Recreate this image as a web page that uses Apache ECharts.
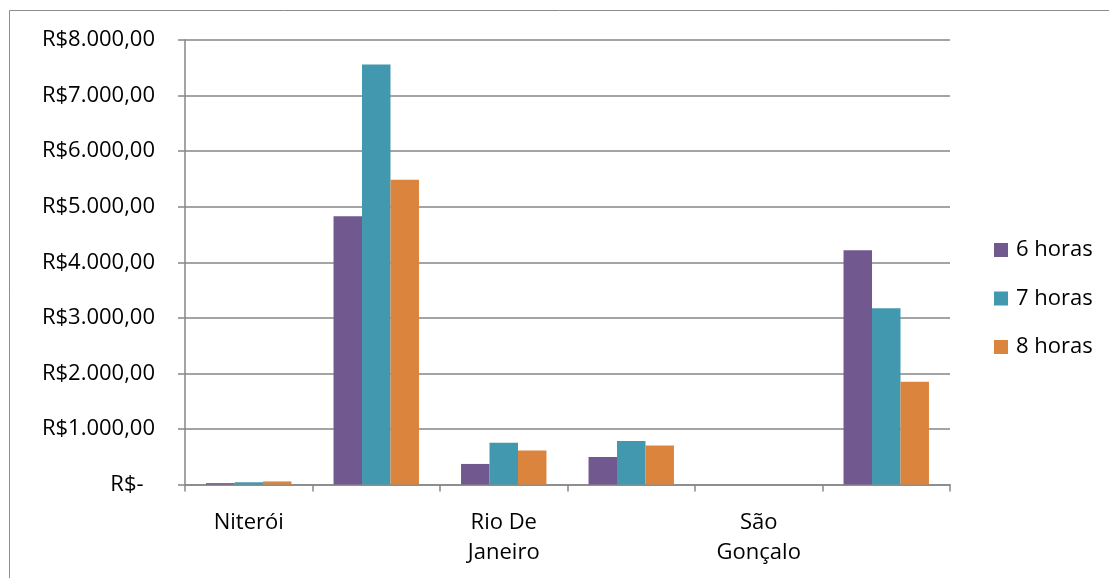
<!DOCTYPE html>
<html>
<head>
<meta charset="utf-8">
<script src="https://cdn.jsdelivr.net/npm/echarts@6/dist/echarts.min.js"></script>
<style>
  html, body { margin: 0; padding: 0; background: #fff; }
  #chart { width: 1109px; height: 578px; }
</style>
</head>
<body>
<div id="chart"></div>
<script>
// Cities (every other group has no printed label)
const categories = ['Niterói', '', 'Rio De\nJaneiro', '', 'São\nGonçalo', ''];
const seriesNames = ['6 horas', '7 horas', '8 horas'];
const horas6 = [25, 4830, 370, 495, 0, 4215];
const horas7 = [40, 7560, 750, 785, 0, 3170];
const horas8 = [55, 5485, 610, 700, 0, 1850];
const yTicks = [0, 1000, 2000, 3000, 4000, 5000, 6000, 7000, 8000];

const colors = ['#71588F', '#4198AF', '#DB843D'];
const font = '"Open Sans", "Noto Sans", sans-serif';
const gridGray = '#868686';

function brl(v) {
  if (v === 0) return 'R$-  ';
  const s = Math.round(v).toString().replace(/\B(?=(\d{3})+(?!\d))/g, '.');
  return 'R$' + s + ',00';
}

const chart = echarts.init(document.getElementById('chart'), null, { renderer: 'canvas' });

chart.setOption({
  animation: false,
  backgroundColor: '#ffffff',
  color: colors,
  graphic: [{
    type: 'rect',
    shape: { x: 9.5, y: 10.5, width: 1200, height: 1000 },
    style: { fill: 'none', stroke: '#8c8c8c', lineWidth: 1 },
    silent: true
  }],
  grid: { left: 185, right: 159, top: 40, bottom: 93.5 },
  legend: {
    orient: 'vertical',
    left: 994,
    top: 239,
    padding: 0,
    itemWidth: 14,
    itemHeight: 14,
    itemGap: 26.5,
    icon: 'rect',
    data: seriesNames,
    textStyle: { fontFamily: font, fontSize: 22, color: '#000', lineHeight: 22, padding: [0, 0, 0, 3] }
  },
  xAxis: {
    type: 'category',
    data: categories,
    boundaryGap: true,
    axisLine: { lineStyle: { color: gridGray, width: 1.5 } },
    axisTick: { show: true, interval: 0, length: 7, lineStyle: { color: gridGray, width: 1.5 } },
    axisLabel: {
      interval: 0,
      margin: 23,
      fontFamily: font,
      fontSize: 22,
      color: '#000',
      lineHeight: 30
    },
    splitLine: { show: false }
  },
  yAxis: {
    type: 'value',
    min: yTicks[0],
    max: yTicks[yTicks.length - 1],
    interval: yTicks[1] - yTicks[0],
    axisLine: { show: true, lineStyle: { color: gridGray, width: 1.5 } },
    axisTick: { show: true, length: 7, lineStyle: { color: gridGray, width: 1.5 } },
    axisLabel: {
      margin: 30,
      fontFamily: font,
      fontSize: 22,
      color: '#000',
      formatter: brl
    },
    splitLine: { show: true, lineStyle: { color: gridGray, width: 1.5 } }
  },
  series: [
    { name: seriesNames[0], type: 'bar', data: horas6, barGap: '0%', barCategoryGap: '33%' },
    { name: seriesNames[1], type: 'bar', data: horas7, barGap: '0%', barCategoryGap: '33%' },
    { name: seriesNames[2], type: 'bar', data: horas8, barGap: '0%', barCategoryGap: '33%' }
  ]
});
</script>
</body>
</html>
